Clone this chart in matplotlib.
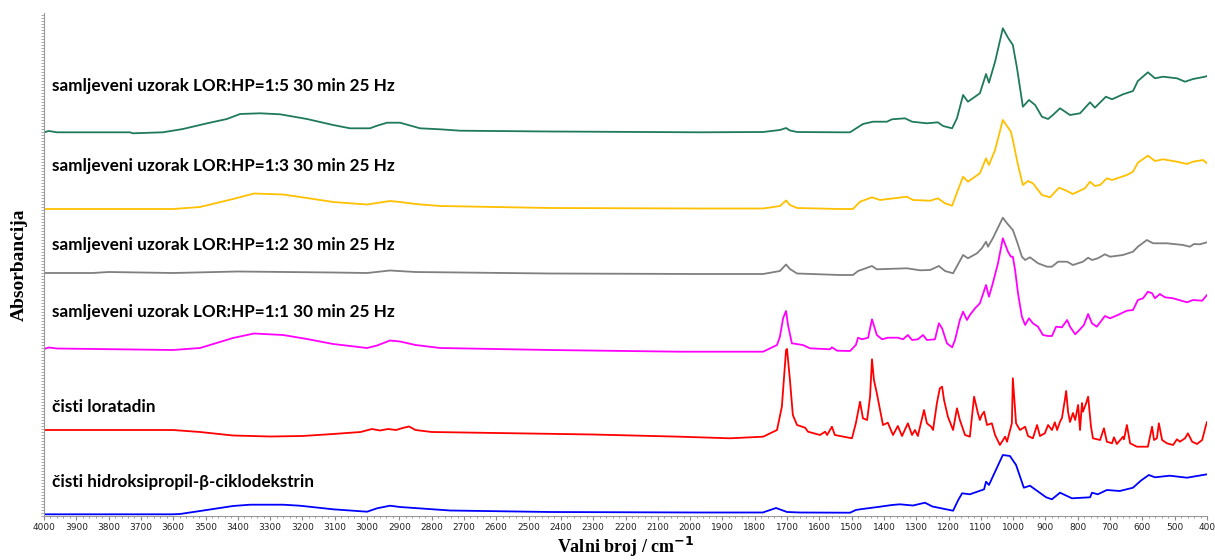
import matplotlib
matplotlib.use("Agg")
import matplotlib.pyplot as plt
from matplotlib.ticker import MultipleLocator

# stacked FTIR spectra, absorbance offsets already included
hpbcd_wn = [4000, 3601, 3579, 3517, 3415, 3362, 3260, 3208, 3105, 3000, 2969, 2929, 2898,
            2743, 2434, 1969, 1775, 1734, 1700, 1660, 1505, 1487, 1474, 1412, 1375, 1351,
            1310, 1273, 1250, 1227, 1186, 1170, 1158, 1134, 1090, 1084, 1075, 1032, 1010,
            991, 967, 948, 898, 880, 855, 818, 762, 756, 738, 710, 670, 629, 605, 580,
            561, 515, 462, 400]
hpbcd_a = [0.017, 0.017, 0.02, 0.05, 0.10, 0.113, 0.113, 0.103, 0.067, 0.043, 0.077, 0.103,
           0.09, 0.055, 0.04, 0.035, 0.035, 0.08, 0.04, 0.035, 0.033, 0.06, 0.067, 0.093,
           0.11, 0.117, 0.105, 0.133, 0.095, 0.08, 0.053, 0.16, 0.227, 0.217, 0.267, 0.343,
           0.31, 0.61, 0.60, 0.51, 0.283, 0.303, 0.187, 0.167, 0.233, 0.177, 0.187, 0.233,
           0.217, 0.26, 0.25, 0.283, 0.353, 0.41, 0.387, 0.403, 0.383, 0.417]

lor_wn = [4000, 3601, 3517, 3415, 3300, 3200, 3105, 3020, 2985, 2960, 2935, 2910, 2890,
          2870, 2850, 2800, 2600, 2300, 2031, 1877, 1774, 1731, 1716, 1703, 1700, 1691,
          1682, 1669, 1644, 1635, 1598, 1582, 1576, 1561, 1552, 1499, 1487, 1474, 1465,
          1452, 1443, 1437, 1431, 1422, 1415, 1403, 1388, 1372, 1357, 1344, 1326, 1313,
          1304, 1295, 1276, 1267, 1254, 1248, 1236, 1227, 1220, 1214, 1202, 1186, 1174,
          1165, 1149, 1134, 1121, 1109, 1103, 1097, 1090, 1081, 1066, 1056, 1041, 1025,
          1019, 1004, 1001, 991, 979, 963, 954, 939, 926, 917, 902, 892, 880, 871, 864,
          855, 849, 840, 836, 830, 824, 815, 808, 799, 793, 787, 784, 774, 768, 759, 753,
          731, 719, 710, 694, 688, 679, 660, 657, 648, 638, 617, 583, 570, 564, 555, 549,
          539, 524, 505, 493, 484, 468, 459, 446, 431, 415, 403, 400]
lor_a = [0.86, 0.86, 0.84, 0.805, 0.795, 0.80, 0.82, 0.84, 0.87, 0.855, 0.87, 0.86, 0.88,
         0.895, 0.86, 0.84, 0.83, 0.815, 0.793, 0.777, 0.793, 0.86, 1.093, 1.66, 1.67, 1.36,
         1.01, 0.91, 0.883, 0.843, 0.81, 0.843, 0.81, 0.893, 0.81, 0.777, 0.927, 1.143,
         0.977, 0.96, 1.193, 1.567, 1.36, 1.227, 1.11, 0.91, 0.933, 0.81, 0.90, 0.80, 0.927,
         0.81, 0.86, 0.80, 1.06, 0.927, 0.893, 0.86, 1.13, 1.277, 1.293, 1.16, 0.993, 0.86,
         1.077, 0.96, 0.81, 0.793, 1.193, 1.027, 0.96, 1.01, 1.043, 0.91, 0.927, 0.81, 0.71,
         0.793, 0.743, 0.927, 1.377, 0.927, 0.86, 0.893, 0.80, 0.777, 0.91, 0.80, 0.827,
         0.91, 0.86, 0.937, 0.86, 0.943, 0.98, 1.16, 1.25, 1.04, 0.94, 1.03, 0.96, 1.11,
         0.86, 1.13, 1.043, 1.13, 1.193, 0.893, 0.777, 0.76, 0.877, 0.743, 0.727, 0.787,
         0.72, 0.793, 0.767, 0.91, 0.727, 0.693, 0.693, 0.893, 0.76, 0.777, 0.927, 0.76,
         0.727, 0.71, 0.767, 0.743, 0.777, 0.827, 0.743, 0.72, 0.76, 0.91, 0.94]

mix11_wn = [4000, 3985, 3960, 3601, 3517, 3415, 3350, 3260, 3186, 3105, 3000, 2969, 2929,
            2898, 2850, 2774, 2434, 2031, 1774, 1731, 1722, 1712, 1703, 1697, 1685, 1651,
            1629, 1567, 1561, 1545, 1505, 1487, 1480, 1468, 1449, 1437, 1422, 1406, 1388,
            1357, 1341, 1326, 1313, 1295, 1279, 1267, 1242, 1230, 1220, 1205, 1189, 1180,
            1165, 1155, 1143, 1134, 1118, 1103, 1084, 1075, 1063, 1047, 1032, 1016, 1007,
            1001, 994, 985, 973, 963, 951, 939, 923, 908, 892, 880, 867, 849, 833, 824, 808,
            793, 781, 768, 756, 741, 716, 700, 676, 648, 629, 614, 598, 583, 570, 561, 546,
            530, 505, 462, 443, 415, 400]
mix11_a = [1.67, 1.685, 1.675, 1.66, 1.68, 1.78, 1.825, 1.81, 1.77, 1.72, 1.68, 1.705, 1.755,
           1.745, 1.71, 1.68, 1.66, 1.643, 1.643, 1.71, 1.793, 1.98, 2.05, 1.91, 1.727, 1.71,
           1.677, 1.667, 1.687, 1.653, 1.65, 1.71, 1.783, 1.767, 1.783, 1.967, 1.81, 1.767,
           1.783, 1.783, 1.767, 1.81, 1.76, 1.767, 1.81, 1.76, 1.767, 1.927, 1.877, 1.727,
           1.687, 1.76, 1.96, 2.043, 1.96, 2.01, 2.077, 2.127, 2.31, 2.193, 2.327, 2.527,
           2.777, 2.643, 2.593, 2.593, 2.46, 2.227, 1.993, 1.91, 1.977, 1.927, 1.893, 1.81,
           1.80, 1.80, 1.893, 1.887, 1.96, 1.893, 1.817, 1.867, 1.91, 2.02, 1.927, 1.893,
           2.0, 1.977, 2.01, 2.053, 2.06, 2.16, 2.177, 2.243, 2.227, 2.177, 2.22, 2.187,
           2.177, 2.137, 2.16, 2.153, 2.21]

mix12_wn = [4000, 3850, 3800, 3601, 3400, 3105, 3000, 2929, 2850, 2434, 1969, 1774, 1722,
            1703, 1691, 1669, 1536, 1496, 1480, 1437, 1422, 1329, 1288, 1257, 1230, 1211,
            1186, 1155, 1140, 1112, 1097, 1084, 1078, 1063, 1032, 1019, 1001, 988, 973, 963,
            948, 923, 895, 880, 861, 833, 815, 784, 768, 756, 738, 716, 700, 660, 629, 614,
            586, 567, 524, 474, 453, 440, 422, 400]
mix12_a = [2.43, 2.43, 2.44, 2.43, 2.445, 2.435, 2.43, 2.455, 2.44, 2.425, 2.42, 2.42, 2.45,
           2.515, 2.47, 2.425, 2.41, 2.41, 2.45, 2.50, 2.467, 2.477, 2.457, 2.46, 2.50, 2.45,
           2.427, 2.61, 2.577, 2.627, 2.677, 2.743, 2.693, 2.777, 2.983, 2.927, 2.86, 2.743,
           2.593, 2.56, 2.587, 2.527, 2.493, 2.493, 2.543, 2.543, 2.51, 2.543, 2.583, 2.56,
           2.577, 2.617, 2.593, 2.61, 2.643, 2.693, 2.76, 2.727, 2.727, 2.71, 2.693, 2.72,
           2.717, 2.737]

mix13_wn = [4000, 3601, 3517, 3415, 3350, 3260, 3186, 3105, 3000, 2969, 2929, 2898, 2850,
            2774, 2434, 1969, 1774, 1722, 1703, 1691, 1669, 1536, 1496, 1474, 1437, 1412,
            1329, 1310, 1257, 1233, 1211, 1189, 1171, 1155, 1140, 1103, 1084, 1075, 1056,
            1032, 1007, 1001, 985, 970, 954, 939, 911, 886, 858, 840, 815, 778, 762, 747,
            731, 710, 694, 648, 629, 614, 583, 561, 536, 493, 462, 443, 412, 400]
mix13_a = [3.07, 3.07, 3.09, 3.17, 3.225, 3.215, 3.18, 3.14, 3.115, 3.13, 3.15, 3.14, 3.12,
           3.10, 3.08, 3.075, 3.075, 3.10, 3.155, 3.11, 3.08, 3.07, 3.07, 3.143, 3.187, 3.16,
           3.193, 3.16, 3.153, 3.177, 3.127, 3.103, 3.26, 3.393, 3.343, 3.427, 3.577, 3.51,
           3.66, 3.96, 3.843, 3.76, 3.51, 3.31, 3.35, 3.327, 3.21, 3.187, 3.283, 3.26, 3.22,
           3.277, 3.343, 3.30, 3.31, 3.377, 3.36, 3.41, 3.443, 3.533, 3.603, 3.55, 3.567,
           3.543, 3.52, 3.543, 3.56, 3.527]

mix15_wn = [4000, 3985, 3960, 3734, 3725, 3632, 3570, 3495, 3434, 3393, 3331, 3269, 3186,
            3105, 3053, 2991, 2969, 2938, 2898, 2836, 2774, 2712, 2434, 1969, 1774, 1722,
            1703, 1691, 1669, 1536, 1505, 1465, 1434, 1391, 1375, 1335, 1313, 1267, 1233,
            1217, 1189, 1174, 1155, 1140, 1103, 1084, 1075, 1056, 1032, 1016, 1001, 988, 970,
            951, 932, 911, 892, 877, 855, 824, 793, 762, 747, 713, 694, 660, 629, 614, 583,
            561, 536, 493, 468, 443, 406, 400]
mix15_a = [3.837, 3.85, 3.837, 3.837, 3.827, 3.837, 3.87, 3.927, 3.97, 4.02, 4.027, 4.017,
           3.97, 3.91, 3.877, 3.877, 3.903, 3.933, 3.933, 3.877, 3.867, 3.853, 3.845, 3.837,
           3.84, 3.86, 3.88, 3.855, 3.84, 3.837, 3.837, 3.92, 3.943, 3.943, 3.967, 3.977,
           3.943, 3.927, 3.937, 3.90, 3.877, 3.977, 4.21, 4.143, 4.227, 4.42, 4.333, 4.543,
           4.877, 4.783, 4.71, 4.477, 4.093, 4.16, 4.11, 3.993, 3.97, 4.01, 4.077, 4.01,
           4.027, 4.137, 4.083, 4.193, 4.167, 4.217, 4.25, 4.35, 4.437, 4.377, 4.393, 4.377,
           4.343, 4.37, 4.393, 4.40]

labels = ["samljeveni uzorak LOR:HP=1:5 30 min 25 Hz",
          "samljeveni uzorak LOR:HP=1:3 30 min 25 Hz",
          "samljeveni uzorak LOR:HP=1:2 30 min 25 Hz",
          "samljeveni uzorak LOR:HP=1:1 30 min 25 Hz",
          "čisti loratadin",
          "čisti hidroksipropil-β-ciklodekstrin"]
label_y = [4.30, 3.50, 2.71, 2.04, 1.09, 0.34]

series = [(mix15_wn, mix15_a, "#1f7a5c"),
          (mix13_wn, mix13_a, "#ffc000"),
          (mix12_wn, mix12_a, "#7f7f7f"),
          (mix11_wn, mix11_a, "#ff00ff"),
          (lor_wn, lor_a, "#ff0000"),
          (hpbcd_wn, hpbcd_a, "#0000ff")]

fig = plt.figure(figsize=(12.15, 5.6), dpi=100)
ax = fig.add_axes([44 / 1215, 44 / 560, 1163 / 1215, 503 / 560])

for (wn, a, col), lab, ly in zip(series, labels, label_y):
    ax.plot(wn, a, color=col, lw=1.3, solid_joinstyle="round")
    ax.text(3975, ly, lab, fontsize=12.3, fontweight="bold", family="Lato",
            ha="left", va="center", color="black")

ax.set_xlim(4000, 400)
ax.set_ylim(0, 5.03)
ax.xaxis.set_major_locator(MultipleLocator(100))
ax.xaxis.set_minor_locator(MultipleLocator(20))
ax.yaxis.set_major_locator(MultipleLocator(0.03))
ax.tick_params(axis="x", which="major", labelsize=6.5, length=3, color="#888888",
               labelcolor="#222222", pad=2)
ax.tick_params(axis="x", which="minor", length=1.5, color="#888888")
ax.tick_params(axis="y", which="major", length=2, width=0.6, color="#999999",
               labelleft=False)
for side in ("top", "right"):
    ax.spines[side].set_visible(False)
for side in ("left", "bottom"):
    ax.spines[side].set_color("#999999")
    ax.spines[side].set_linewidth(0.8)

ax.set_ylabel("Absorbancija", family="Liberation Serif", fontweight="bold",
              fontsize=14, labelpad=10)
ax.set_xlabel("Valni broj / cm$^{\\mathbf{-1}}$", family="Liberation Serif",
              fontweight="bold", fontsize=13, labelpad=2)

fig.savefig("out.png", dpi=100)
